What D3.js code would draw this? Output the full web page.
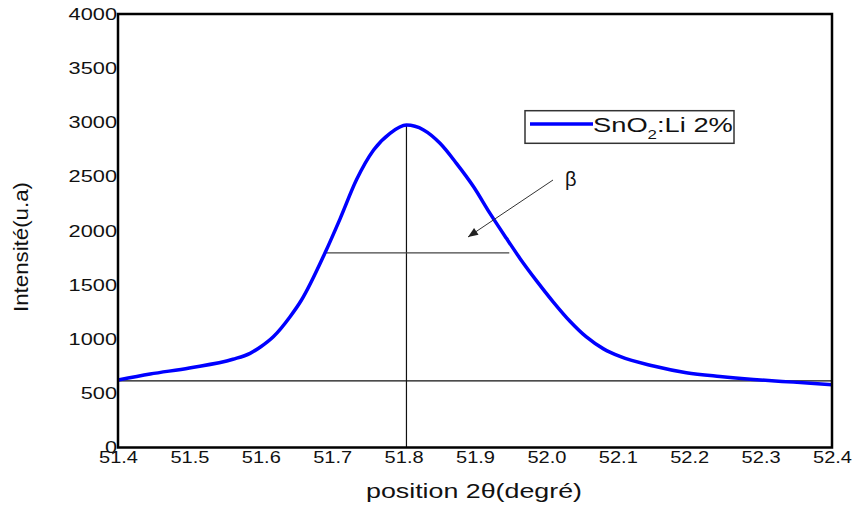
<!DOCTYPE html>
<html>
<head>
<meta charset="utf-8">
<script src="https://cdn.jsdelivr.net/npm/d3@7/dist/d3.min.js"></script>
<style>
  html, body { margin: 0; padding: 0; background: #fff; }
  svg { display: block; font-family: "Liberation Sans", Arial, sans-serif; }
</style>
</head>
<body>
<svg id="chart" width="855" height="506"></svg>
<script>
// ---- data ----
const position = [51.400, 51.445, 51.500, 51.561, 51.585, 51.600, 51.6175, 51.641, 51.657, 51.690, 51.711, 51.734, 51.758, 51.781, 51.804, 51.828, 51.851, 51.874, 51.898, 51.921, 51.944, 51.963, 51.986, 52.010, 52.033, 52.056, 52.080, 52.103, 52.150, 52.196, 52.243, 52.290, 52.330, 52.370, 52.400];
const intensity = [623, 678, 734, 814, 869, 930, 1022, 1207, 1361, 1797, 2110, 2470, 2745, 2899, 2975, 2930, 2807, 2622, 2406, 2160, 1930, 1745, 1540, 1340, 1165, 1020, 910, 840, 752, 690, 655, 628, 610, 593, 578];
const xTicks = [51.4, 51.5, 51.6, 51.7, 51.8, 51.9, 52.0, 52.1, 52.2, 52.3, 52.4];
const yTicks = [0, 500, 1000, 1500, 2000, 2500, 3000, 3500, 4000];
const seriesName = "SnO";
const seriesSub = "2";
const seriesRest = ":Li 2%";
const baselineValue = 614;
const peakPosition = 51.804;
const peakValue = 2975;
const halfMax = 1795;
const fwhmRange = [51.69, 51.948];
const xTitle = "position 2θ(degré)";
const yTitle = "Intensité(u.a)";
const betaLabel = "β";

// ---- layout ----
const svg = d3.select("#chart");
const L = 118, R = 832, T = 14, B = 447.5;
const x = d3.scaleLinear().domain([51.4, 52.4]).range([L, R]);
const y = d3.scaleLinear().domain([0, 4000]).range([B, T]);

// guide lines
const g = svg.append("g");
g.append("line").attr("x1", x(51.4)).attr("x2", x(52.4))
  .attr("y1", y(baselineValue)).attr("y2", y(baselineValue))
  .attr("stroke", "#111").attr("stroke-width", 1.2);
g.append("line").attr("x1", x(peakPosition)).attr("x2", x(peakPosition))
  .attr("y1", y(0)).attr("y2", y(peakValue))
  .attr("stroke", "#111").attr("stroke-width", 1.2);
g.append("line").attr("x1", x(fwhmRange[0])).attr("x2", x(fwhmRange[1]))
  .attr("y1", y(halfMax)).attr("y2", y(halfMax))
  .attr("stroke", "#444").attr("stroke-width", 1.2);

// curve
const line = d3.line().x((d, i) => x(position[i])).y(d => y(d)).curve(d3.curveMonotoneX);
svg.append("path").datum(intensity).attr("d", line)
  .attr("fill", "none").attr("stroke", "#0000ff").attr("stroke-width", 3.5)
  .attr("stroke-linejoin", "round");

// arrow
const defs = svg.append("defs");
defs.append("marker").attr("id", "ah").attr("viewBox", "0 0 10 10")
  .attr("refX", 10).attr("refY", 5).attr("markerWidth", 14).attr("markerHeight", 10)
  .attr("markerUnits", "userSpaceOnUse").attr("orient", "auto")
  .append("path").attr("d", "M0,1 L10,5 L0,9 Z").attr("fill", "#222");
svg.append("line").attr("x1", 553).attr("y1", 180).attr("x2", 468).attr("y2", 237)
  .attr("stroke", "#333").attr("stroke-width", 1).attr("marker-end", "url(#ah)");
svg.append("text").attr("x", 565).attr("y", 186).attr("font-size", 20).attr("fill", "#111")
  .text(betaLabel);

// frame
svg.append("rect").attr("x", L).attr("y", T).attr("width", R - L).attr("height", B - T)
  .attr("fill", "none").attr("stroke", "#000").attr("stroke-width", 2.5);

// axes
const xAxis = svg.append("g").attr("transform", `translate(0,${B})`)
  .call(d3.axisBottom(x).tickValues(xTicks).tickSize(0).tickPadding(0).tickFormat(d3.format(".1f")));
xAxis.select(".domain").remove();
xAxis.selectAll("text").attr("font-size", 17).attr("fill", "#111")
  .attr("font-family", "Liberation Sans, Arial, sans-serif")
  .attr("dy", null).attr("y", 15.5)
  .attr("textLength", 39).attr("lengthAdjust", "spacingAndGlyphs");

const yAxis = svg.append("g").attr("transform", `translate(${L},0)`)
  .call(d3.axisLeft(y).tickValues(yTicks).tickSize(0).tickPadding(1).tickFormat(d3.format("d")));
yAxis.select(".domain").remove();
yAxis.selectAll("text").attr("font-size", 16.5).attr("fill", "#111")
  .attr("font-family", "Liberation Sans, Arial, sans-serif")
  .attr("textLength", d => String(d).length * 12.1).attr("lengthAdjust", "spacingAndGlyphs");

// axis titles
svg.append("text").attr("x", 474).attr("y", 498).attr("text-anchor", "middle")
  .attr("font-size", 21).attr("fill", "#111")
  .attr("textLength", 216).attr("lengthAdjust", "spacingAndGlyphs").text(xTitle);
svg.append("text").attr("transform", "translate(28,247) rotate(-90)").attr("text-anchor", "middle")
  .attr("font-size", 20).attr("fill", "#111")
  .attr("textLength", 130).attr("lengthAdjust", "spacingAndGlyphs").text(yTitle);

// legend
const lg = svg.append("g");
lg.append("rect").attr("x", 525).attr("y", 110.7).attr("width", 209).attr("height", 32.6)
  .attr("fill", "#fff").attr("stroke", "#333").attr("stroke-width", 1.5);
lg.append("line").attr("x1", 530).attr("x2", 593).attr("y1", 124).attr("y2", 124)
  .attr("stroke", "#0000ff").attr("stroke-width", 3.5);
const lt = lg.append("text").attr("transform", "translate(593,132.3) scale(1.3,1)")
  .attr("font-size", 21).attr("fill", "#111");
lt.append("tspan").text(seriesName);
lt.append("tspan").attr("font-size", 13).attr("dy", 7).text(seriesSub);
lt.append("tspan").attr("dy", -7).text(seriesRest);
</script>
</body>
</html>
